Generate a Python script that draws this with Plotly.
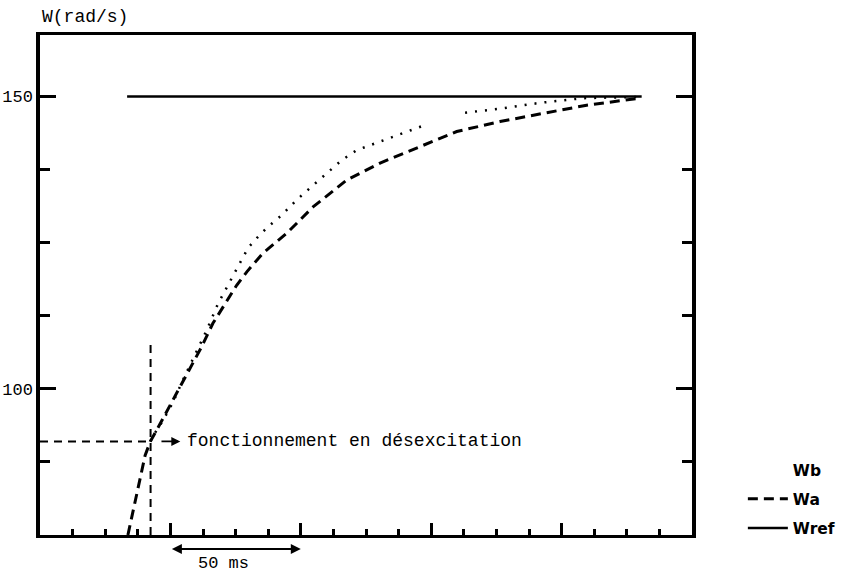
import plotly.graph_objects as go

# ---- data (time in ms, speed in rad/s) ----
wa_t = [33.7, 40.3, 42.3, 44.7, 62.0, 66.3, 75.4, 79.3, 85.5, 94.6, 104.7, 117.6,
        130.4, 144.4, 159.8, 176.4, 194.3, 209.6, 230.1]
wa_w = [75.0, 88.6, 91.0, 92.9, 107.2, 111.2, 117.7, 120.0, 123.2, 126.6, 131.1, 135.7,
        138.6, 141.2, 144.0, 145.7, 147.2, 148.5, 149.7]

wb_t = [42.3, 44.7, 47.2, 51.0, 54.8, 58.7, 63.9, 68.3, 72.1, 75.4, 79.8, 83.2, 86.9,
        92.7, 98.4, 104.7, 115.7, 121.4, 134.2, 147.6, None, 163.0, 176.4, 191.7,
        208.2, 227.4, 230.1]
wb_w = [91.0, 92.9, 94.6, 97.7, 101.5, 105.2, 110.0, 114.6, 117.7, 120.6, 124.1, 125.8,
        127.5, 129.7, 132.3, 134.8, 139.1, 140.8, 142.9, 145.1, None, 147.2, 147.9, 148.9,
        149.7, 149.9, 149.9]

wref_t = [33.4, 230.7]
wref_w = [150.0, 150.0]

# operating point where field weakening starts
op_t = 42.4
op_w = 91.0
op_vtop = 107.8

x_range = [0, 250]
y_range = [75, 160.5]
y_tickvals = [100, 150]
y_ticktext = ["100", "150"]

mono = "Liberation Mono"
ink = "black"

fig = go.Figure()

fig.add_trace(go.Scatter(x=wb_t, y=wb_w, mode="lines", name="Wb", showlegend=False,
                         line=dict(color=ink, width=2.5, dash="2px,8px"),
                         legendgroup="b"))
# legend entry for Wb (the reference shows its label without a line sample)
fig.add_trace(go.Scatter(x=[None], y=[None], mode="lines", name="Wb",
                         line=dict(color="rgba(0,0,0,0)", width=0),
                         legendgroup="b"))
fig.add_trace(go.Scatter(x=wa_t, y=wa_w, mode="lines", name="Wa",
                         line=dict(color=ink, width=3, dash="10px,6px"),
                         legendgroup="a"))
fig.add_trace(go.Scatter(x=wref_t, y=wref_w, mode="lines", name="Wref",
                         line=dict(color=ink, width=2.5),
                         legendgroup="r"))

# dashed guide lines to the operating point
fig.add_shape(type="line", x0=x_range[0], x1=op_t, y0=op_w, y1=op_w,
              line=dict(color=ink, width=2, dash="8px,6px"), layer="above")
fig.add_shape(type="line", x0=op_t, x1=op_t, y0=y_range[0], y1=op_vtop,
              line=dict(color=ink, width=2, dash="8px,6px"), layer="above")

# arrow + label
fig.add_annotation(x=53.8, y=op_w, ax=46.0, ay=op_w, axref="x", ayref="y",
                   xref="x", yref="y", text="", showarrow=True,
                   arrowhead=2, arrowsize=1, arrowwidth=1.8, arrowcolor=ink)
fig.add_annotation(x=55.6, y=op_w, xref="x", yref="y", xanchor="left", yanchor="middle",
                   text="fonctionnement en désexcitation", showarrow=False,
                   font=dict(family=mono, size=18, color=ink))

# 50 ms scale arrow
fig.add_annotation(x=100, y=-0.028, ax=50, ay=0, xref="x", yref="paper",
                   axref="x", ayref="pixel", text="", showarrow=True,
                   arrowhead=2, startarrowhead=2, arrowside="end+start",
                   arrowwidth=2, arrowcolor=ink)
fig.add_annotation(x=60.3, y=-0.056, xref="x", yref="paper", xanchor="left", yanchor="middle",
                   text="50 ms", showarrow=False, borderpad=0,
                   font=dict(family=mono, size=17, color=ink))

# y axis title
fig.add_annotation(x=0, y=1.0, xref="paper", yref="paper", xanchor="left", yanchor="bottom",
                   yshift=6, text="W(rad/s)", showarrow=False,
                   font=dict(family=mono, size=18, color=ink))

fig.update_xaxes(range=x_range, showgrid=False, zeroline=False, automargin=False,
                 showline=True, linewidth=3, linecolor=ink, mirror=True,
                 ticks="inside", tickmode="linear", tick0=0, dtick=50,
                 ticklen=12, tickwidth=2.5, tickcolor=ink, showticklabels=False,
                 minor=dict(ticks="inside", dtick=12.5, tick0=0, ticklen=6,
                            tickwidth=2.5, tickcolor=ink))
fig.update_yaxes(range=y_range, showgrid=False, zeroline=False, automargin=False,
                 showline=True, linewidth=3.5, linecolor=ink, mirror="ticks",
                 ticks="inside", tickmode="array", tickvals=y_tickvals, ticktext=y_ticktext,
                 ticklen=16, tickwidth=2.5, tickcolor=ink, ticklabelstandoff=0,
                 tickfont=dict(family=mono, size=17, color=ink),
                 minor=dict(ticks="inside", dtick=12.5, tick0=75, ticklen=10,
                            tickwidth=2.5, tickcolor=ink))

fig.update_layout(
    width=843, height=576,
    margin=dict(l=40, r=151, t=35, b=41, autoexpand=False),
    paper_bgcolor="white", plot_bgcolor="white",
    showlegend=True,
    legend=dict(x=1.078, y=0.164, xanchor="left", yanchor="top",
                traceorder="grouped", tracegroupgap=6,
                font=dict(family="DejaVu Sans", size=15.5, color=ink, weight="bold"),
                bgcolor="rgba(0,0,0,0)", itemwidth=40),
)

fig.write_html("out.html", config={"displayModeBar": False},
               post_script="document.body.style.margin='0';document.body.style.overflow='hidden';")
